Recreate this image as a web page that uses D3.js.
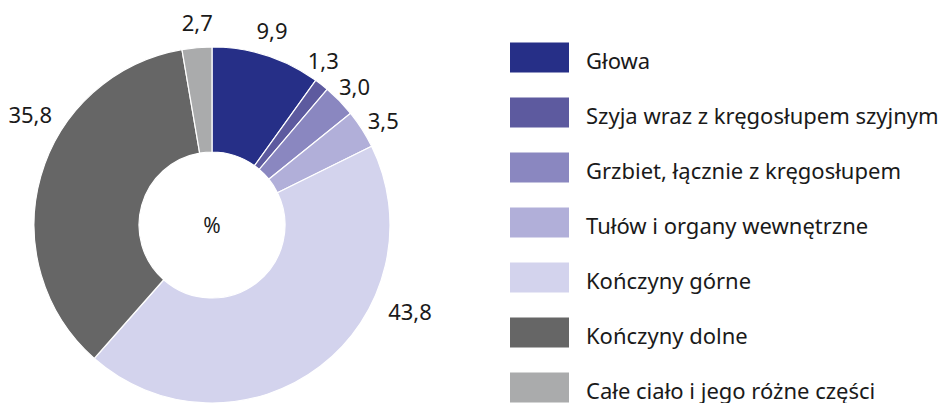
<!DOCTYPE html>
<html>
<head>
<meta charset="utf-8">
<script src="https://cdn.jsdelivr.net/npm/d3@7"></script>
<style>
  body { margin: 0; background: #fff; }
  svg text { font-family: "Noto Sans", "Open Sans", sans-serif; fill: #1a1a1a; }
</style>
</head>
<body>
<div id="container"></div>
<script>
/* DATA */
const categories = [
  "Głowa",
  "Szyja wraz z kręgosłupem szyjnym",
  "Grzbiet, łącznie z kręgosłupem",
  "Tułów i organy wewnętrzne",
  "Kończyny górne",
  "Kończyny dolne",
  "Całe ciało i jego różne części"
];
const values = [9.9, 1.3, 3.0, 3.5, 43.8, 35.8, 2.7];
const valueLabels = ["9,9", "1,3", "3,0", "3,5", "43,8", "35,8", "2,7"];
const colors = ["#262f87", "#5d5a9f", "#8a87c0", "#b1afd9", "#d3d3ed", "#666666", "#aaabac"];

/* CONSTANTS */
const width = 941, height = 403;
const cx = 212, cy = 225, outerR = 178, innerR = 73;
// label tweaks: angle shift (deg) and radius, to mimic the hand placed labels
const labelShift = [-0.7, -4, 0, 1, -29, 15.6, 0.7];
const labelR = [204, 199, 199, 201, 216, 213, 204];

const svg = d3.select("#container")
  .append("svg")
  .attr("width", width)
  .attr("height", height);

const pie = d3.pie().sort(null).value(d => d);
const arcs = pie(values);

const arc = d3.arc()
  .innerRadius(innerR)
  .outerRadius(outerR);

const g = svg.append("g")
  .attr("transform", `translate(${cx},${cy})`);

g.selectAll("path")
  .data(arcs)
  .join("path")
  .attr("d", arc)
  .attr("fill", (d, i) => colors[i])
  .attr("stroke", "#fff")
  .attr("stroke-width", 1.2);

// value labels
g.selectAll("text.val")
  .data(arcs)
  .join("text")
  .attr("class", "val")
  .attr("x", (d, i) => {
    const a = (d.startAngle + d.endAngle) / 2 + labelShift[i] * Math.PI / 180;
    return Math.sin(a) * labelR[i];
  })
  .attr("y", (d, i) => {
    const a = (d.startAngle + d.endAngle) / 2 + labelShift[i] * Math.PI / 180;
    return -Math.cos(a) * labelR[i];
  })
  .attr("text-anchor", "middle")
  .attr("dominant-baseline", "central")
  .style("font-size", "22px")
  .text((d, i) => valueLabels[i]);

g.append("text")
  .attr("x", 0)
  .attr("y", 0)
  .attr("text-anchor", "middle")
  .attr("dominant-baseline", "central")
  .style("font-size", "21px")
  .text("%");

// legend
const legendY = d3.scaleBand()
  .domain(categories)
  .range([30, 415])
  .paddingInner(0);

const legend = svg.append("g")
  .attr("transform", "translate(510,0)");

const rows = legend.selectAll("g")
  .data(categories)
  .join("g")
  .attr("transform", d => `translate(0,${legendY(d) + legendY.bandwidth() / 2})`);

rows.append("rect")
  .attr("x", 0)
  .attr("y", -15)
  .attr("width", 59)
  .attr("height", 30)
  .attr("fill", (d, i) => colors[i]);

rows.append("text")
  .attr("x", 76)
  .attr("y", 2)
  .attr("dominant-baseline", "central")
  .style("font-size", "22px")
  .text(d => d);
</script>
</body>
</html>
